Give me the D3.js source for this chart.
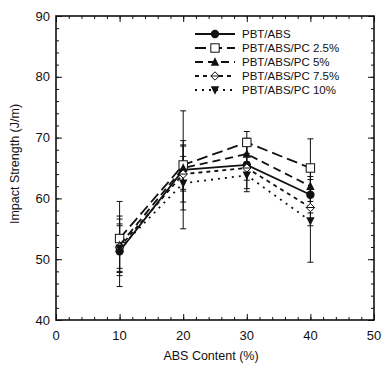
<!DOCTYPE html>
<html>
<head>
<meta charset="utf-8">
<script src="https://cdn.jsdelivr.net/npm/d3@7"></script>
<style>
  body { margin: 0; background: #fff; }
  text { font-family: "Liberation Sans", Arial, sans-serif; fill: #111; }
</style>
</head>
<body>
<div id="chart"></div>
<script>
// ABS content (%)
const absContent = [10, 20, 30, 40];

// impact strength (J/m) per blend
const pbtAbs   = [51.3, 64.7, 65.5, 60.6];
const pc25     = [53.4, 65.5, 69.2, 65.0];
const pc5      = [52.3, 65.0, 67.3, 62.0];
const pc75     = [52.0, 64.0, 65.0, 58.5];
const pc10     = [51.8, 62.5, 63.8, 56.3];

// error bar half-widths
const errPbtAbs = [5.8, 9.7, 4.4, 3.0];
const errPc25   = [6.1, 4.0, 1.8, 4.8];
const errPc5    = [4.3, 3.8, 2.0, 2.5];
const errPc75   = [3.5, 4.6, 2.0, 3.0];
const errPc10   = [4.0, 4.4, 2.2, 6.8];

const seriesNames = ["PBT/ABS", "PBT/ABS/PC 2.5%", "PBT/ABS/PC 5%", "PBT/ABS/PC 7.5%", "PBT/ABS/PC 10%"];
const xTicks = [0, 10, 20, 30, 40, 50];
const yTicks = [40, 50, 60, 70, 80, 90];

const series = [
  { name: seriesNames[0], values: pbtAbs, err: errPbtAbs, dash: null,    marker: "circle" },
  { name: seriesNames[1], values: pc25,   err: errPc25,   dash: "11,5",  marker: "square" },
  { name: seriesNames[2], values: pc5,    err: errPc5,    dash: "8,5",   marker: "triUp" },
  { name: seriesNames[3], values: pc75,   err: errPc75,   dash: "4,4",   marker: "diamond" },
  { name: seriesNames[4], values: pc10,   err: errPc10,   dash: "2,5",   marker: "triDown" }
];

const margin = { top: 16, right: 11, bottom: 54, left: 56 };
const width = 385 - margin.left - margin.right;
const height = 374 - margin.top - margin.bottom;

const svg = d3.select("#chart").append("svg")
  .attr("width", 385)
  .attr("height", 374)
  .append("g")
  .attr("transform", `translate(${margin.left}, ${margin.top})`);

const x = d3.scaleLinear().domain([0, 50]).range([0, width]);
const y = d3.scaleLinear().domain([40, 90]).range([height, 0]);

// minor + major ticks pointing inward on all sides
const minorX = d3.range(0, 51, 2);
const minorY = d3.range(40, 91, 2);

function tickAxis(axisFn, scale, vals, size, transform) {
  svg.append("g")
    .attr("transform", transform)
    .call(axisFn(scale).tickValues(vals).tickSize(size).tickFormat(""))
    .call(g => g.select(".domain").remove())
    .call(g => g.selectAll("line").attr("stroke", "#111").attr("stroke-width", 1));
}
tickAxis(d3.axisBottom, x, minorX, -3, `translate(0,${height})`);
tickAxis(d3.axisBottom, x, xTicks, -6, `translate(0,${height})`);
tickAxis(d3.axisTop, x, minorX, -3, "translate(0,0)");
tickAxis(d3.axisTop, x, xTicks, -6, "translate(0,0)");
tickAxis(d3.axisLeft, y, minorY, -3, "translate(0,0)");
tickAxis(d3.axisLeft, y, yTicks, -6, "translate(0,0)");
tickAxis(d3.axisRight, y, minorY, -3, `translate(${width},0)`);
tickAxis(d3.axisRight, y, yTicks, -6, `translate(${width},0)`);

// tick labels
svg.append("g").selectAll("text").data(xTicks).join("text")
  .attr("x", d => x(d))
  .attr("y", height + 20)
  .attr("text-anchor", "middle")
  .attr("font-size", 13)
  .text(d => d);

svg.append("g").selectAll("text").data(yTicks).join("text")
  .attr("x", -6)
  .attr("y", d => y(d) + 4.5)
  .attr("text-anchor", "end")
  .attr("font-size", 13)
  .text(d => d);

// frame
svg.append("rect")
  .attr("width", width)
  .attr("height", height)
  .attr("fill", "none")
  .attr("stroke", "#111")
  .attr("stroke-width", 1.6);

// axis titles
svg.append("text")
  .attr("x", width / 2 - 4)
  .attr("y", height + 40)
  .attr("text-anchor", "middle")
  .attr("font-size", 12.5)
  .text("ABS Content (%)");

svg.append("text")
  .attr("transform", "rotate(-90)")
  .attr("x", -(height / 2) + 4)
  .attr("y", -37)
  .attr("text-anchor", "middle")
  .attr("font-size", 12.5)
  .text("Impact Strength (J/m)");

// marker drawing
function drawMarker(g, type, cx, cy) {
  const s = 4.2;
  if (type === "circle") {
    g.append("circle").attr("cx", cx).attr("cy", cy).attr("r", s)
      .attr("fill", "#111");
  } else if (type === "square") {
    g.append("rect").attr("x", cx - s).attr("y", cy - s).attr("width", 2 * s).attr("height", 2 * s)
      .attr("fill", "#fff").attr("stroke", "#111").attr("stroke-width", 1);
  } else if (type === "triUp") {
    g.append("path").attr("d", `M${cx},${cy - s - 0.5}L${cx + s},${cy + s - 0.5}L${cx - s},${cy + s - 0.5}Z`)
      .attr("fill", "#111");
  } else if (type === "triDown") {
    g.append("path").attr("d", `M${cx},${cy + s + 0.5}L${cx + s},${cy - s + 0.5}L${cx - s},${cy - s + 0.5}Z`)
      .attr("fill", "#111");
  } else if (type === "diamond") {
    g.append("path").attr("d", `M${cx},${cy - s}L${cx + s},${cy}L${cx},${cy + s}L${cx - s},${cy}Z`)
      .attr("fill", "#fff").attr("stroke", "#111").attr("stroke-width", 1);
    g.append("line").attr("x1", cx - s).attr("x2", cx + s).attr("y1", cy).attr("y2", cy)
      .attr("stroke", "#111").attr("stroke-width", 1);
  }
}

const line = d3.line()
  .x((d, i) => x(absContent[i]))
  .y(d => y(d));

// error bars
series.forEach(s => {
  const g = svg.append("g");
  s.values.forEach((v, i) => {
    const cx = x(absContent[i]);
    const top = y(v + s.err[i]);
    const bot = y(v - s.err[i]);
    g.append("line").attr("x1", cx).attr("x2", cx).attr("y1", top).attr("y2", bot)
      .attr("stroke", "#111").attr("stroke-width", 1);
    [top, bot].forEach(yy => {
      g.append("line").attr("x1", cx - 3).attr("x2", cx + 3).attr("y1", yy).attr("y2", yy)
        .attr("stroke", "#111").attr("stroke-width", 1);
    });
  });
});

// lines and markers
series.forEach(s => {
  svg.append("path")
    .datum(s.values)
    .attr("d", line)
    .attr("fill", "none")
    .attr("stroke", "#111")
    .attr("stroke-width", 1.8)
    .attr("stroke-dasharray", s.dash);
  const g = svg.append("g");
  s.values.forEach((v, i) => drawMarker(g, s.marker, x(absContent[i]), y(v)));
});

// legend
const legend = svg.append("g").attr("transform", "translate(139, 18)");
series.forEach((s, i) => {
  const ly = i * 14;
  legend.append("line")
    .attr("x1", 0).attr("x2", 40).attr("y1", ly).attr("y2", ly)
    .attr("stroke", "#111").attr("stroke-width", 1.8)
    .attr("stroke-dasharray", s.dash);
  drawMarker(legend, s.marker, 20, ly);
  legend.append("text")
    .attr("x", 47)
    .attr("y", ly + 4)
    .attr("font-size", 11.5)
    .text(s.name);
});
</script>
</body>
</html>
